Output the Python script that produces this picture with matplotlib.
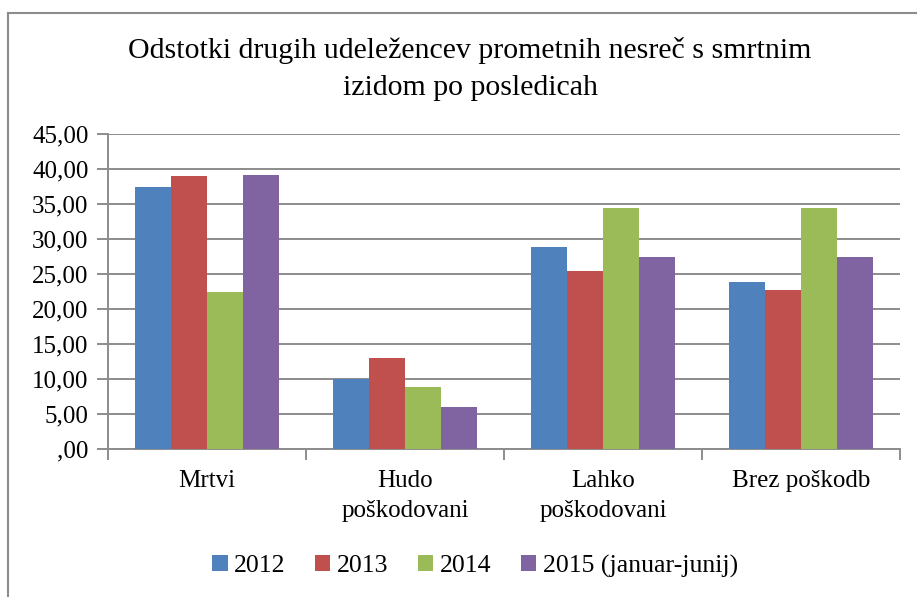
import numpy as np
import matplotlib.pyplot as plt
from matplotlib.lines import Line2D
from matplotlib.ticker import FuncFormatter

plt.rcParams['font.family'] = ['Liberation Serif', 'DejaVu Serif']

categories = ['Mrtvi', 'Hudo\npoškodovani', 'Lahko\npoškodovani', 'Brez poškodb']
series = ['2012', '2013', '2014', '2015 (januar-junij)']
v2012 = [37.4, 10.07, 28.82, 23.79]
v2013 = [39.0, 13.06, 25.36, 22.65]
v2014 = [22.36, 8.88, 34.38, 34.38]
v2015 = [39.2, 5.94, 27.49, 27.49]
colors = ['#4f81bd', '#c0504d', '#9bbb59', '#8064a2']

W, H = 917, 597
fig = plt.figure(figsize=(W / 100, H / 100), dpi=100)
ax = fig.add_axes([108 / W, 1 - 449 / H, (900 - 108) / W, (449 - 134) / H])

x = np.arange(len(categories))
bw = 0.181
for i, (vals, c) in enumerate(zip([v2012, v2013, v2014, v2015], colors)):
    ax.bar(x + (i - 1.5) * bw, vals, bw, color=c, label=series[i], zorder=3)

ax.set_xlim(-0.5, len(categories) - 0.5)
ax.set_ylim(0, 45)
ax.set_yticks(np.arange(0, 46, 5))
ax.yaxis.set_major_formatter(FuncFormatter(
    lambda v, p: ',00' if v == 0 else f'{v:.2f}'.replace('.', ',')))
ax.grid(axis='y', color='#8c8c8c', linewidth=1.4, zorder=0)

ax.set_xticks(x)
ax.set_xticklabels(categories, fontsize=18, linespacing=1.5)
ax.set_xticks(np.arange(-0.5, len(categories)), minor=True)
ax.tick_params(axis='x', which='major', length=0, pad=15)
ax.tick_params(axis='x', which='minor', length=8, width=1.4, color='#8c8c8c')
ax.tick_params(axis='y', length=8, width=1.4, color='#8c8c8c', labelsize=18, pad=6)

for s in ['top', 'right']:
    ax.spines[s].set_visible(False)
for s in ['left', 'bottom']:
    ax.spines[s].set_color('#8c8c8c')
    ax.spines[s].set_linewidth(1.4)

fig.text(470 / W, 1 - 69 / H,
         'Odstotki drugih udeležencev prometnih nesreč s smrtnim\nizidom po posledicah',
         ha='center', va='center', fontsize=21.5, linespacing=1.55)

ax.legend(loc='center', bbox_to_anchor=(475 / W, 1 - 566 / H),
          bbox_transform=fig.transFigure, ncol=4, frameon=False, fontsize=18.5,
          handlelength=0.6, handleheight=0.6, handletextpad=0.25, columnspacing=1.15)

# chart border (top and left visible)
fig.add_artist(Line2D([8 / W, 8 / W], [0, 1 - 13 / H], transform=fig.transFigure,
                      color='#8c8c8c', linewidth=1.5))
fig.add_artist(Line2D([8 / W, 1], [1 - 13 / H, 1 - 13 / H], transform=fig.transFigure,
                      color='#8c8c8c', linewidth=1.5))

fig.savefig('out.png', dpi=100)
